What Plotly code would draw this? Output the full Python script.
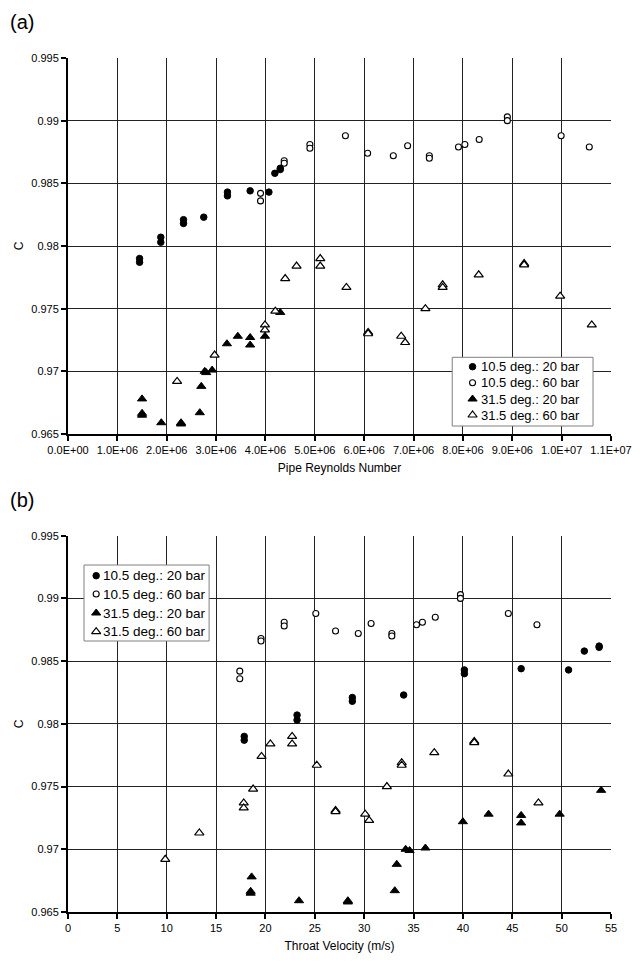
import plotly.graph_objects as go

# ---- Discharge coefficient data, four test series ----
names = ["10.5 deg.: 20 bar", "10.5 deg.: 60 bar", "31.5 deg.: 20 bar", "31.5 deg.: 60 bar"]

# 10.5 deg., 20 bar (filled circles)
re_105_20 = [1.45e6, 1.45e6, 1.88e6, 1.88e6, 2.34e6, 2.34e6, 2.75e6, 3.23e6, 3.23e6,
             3.69e6, 4.07e6, 4.19e6, 4.30e6, 4.30e6]
v_105_20 = [17.85, 17.85, 23.2, 23.2, 28.8, 28.8, 34.0, 40.15, 40.15,
            45.9, 50.7, 52.3, 53.8, 53.8]
c_105_20 = [0.9790, 0.9787, 0.9807, 0.9803, 0.9821, 0.9818, 0.9823, 0.9843, 0.9840,
            0.9844, 0.9843, 0.9858, 0.9862, 0.9861]

# 10.5 deg., 60 bar (open circles)
re_105_60 = [3.90e6, 3.90e6, 4.38e6, 4.38e6, 4.90e6, 4.90e6, 5.62e6, 6.07e6, 6.59e6,
             6.88e6, 7.32e6, 7.32e6, 7.91e6, 8.04e6, 8.33e6, 8.90e6, 8.90e6, 9.99e6, 10.56e6]
v_105_60 = [17.4, 17.4, 19.55, 19.55, 21.9, 21.9, 25.1, 27.1, 29.4,
            30.7, 32.8, 32.8, 35.3, 35.9, 37.2, 39.75, 39.75, 44.6, 47.5]
c_105_60 = [0.9842, 0.9836, 0.9868, 0.9866, 0.9881, 0.9878, 0.9888, 0.9874, 0.9872,
            0.9880, 0.9872, 0.9870, 0.9879, 0.9881, 0.9885, 0.9903, 0.9900, 0.9888, 0.9879]

# 31.5 deg., 20 bar (filled triangles)
re_315_20 = [1.50e6, 1.50e6, 1.50e6, 1.89e6, 2.29e6, 2.29e6, 2.67e6, 2.70e6, 2.77e6,
             2.80e6, 2.92e6, 3.22e6, 3.44e6, 3.69e6, 3.69e6, 3.99e6, 4.30e6]
v_315_20 = [18.6, 18.5, 18.5, 23.4, 28.35, 28.35, 33.1, 33.3, 34.2,
            34.6, 36.2, 40.0, 42.6, 45.9, 45.9, 49.8, 54.0]
c_315_20 = [0.9678, 0.96665, 0.9665, 0.9659, 0.9659, 0.9658, 0.9667, 0.9688, 0.9700,
            0.9699, 0.9701, 0.9722, 0.9728, 0.9727, 0.9721, 0.9728, 0.9747]

# 31.5 deg., 60 bar (open triangles)
re_315_60 = [2.21e6, 2.97e6, 3.99e6, 3.99e6, 4.20e6, 4.40e6, 4.63e6, 5.11e6, 5.11e6,
             5.64e6, 6.08e6, 6.08e6, 6.75e6, 6.83e6, 7.24e6, 7.59e6, 7.59e6, 8.32e6,
             9.24e6, 9.24e6, 9.97e6, 10.61e6]
v_315_60 = [9.85, 13.3, 17.8, 17.8, 18.75, 19.6, 20.5, 22.7, 22.7,
            25.2, 27.1, 27.1, 30.1, 30.5, 32.3, 33.8, 33.8, 37.1,
            41.15, 41.15, 44.6, 47.65]
c_315_60 = [0.9692, 0.9713, 0.9737, 0.9733, 0.9748, 0.9774, 0.9784, 0.9790, 0.9784,
            0.9767, 0.9731, 0.9730, 0.9728, 0.9723, 0.9750, 0.9769, 0.9767, 0.9777,
            0.9786, 0.9785, 0.9760, 0.9737]

# Axis ticks
c_ticks = [0.965, 0.97, 0.975, 0.98, 0.985, 0.99, 0.995]
c_ticktext = ["0.965", "0.97", "0.975", "0.98", "0.985", "0.99", "0.995"]
re_ticks = [0, 1e6, 2e6, 3e6, 4e6, 5e6, 6e6, 7e6, 8e6, 9e6, 1e7, 1.1e7]
re_ticktext = ["0.0E+00", "1.0E+06", "2.0E+06", "3.0E+06", "4.0E+06", "5.0E+06",
               "6.0E+06", "7.0E+06", "8.0E+06", "9.0E+06", "1.0E+07", "1.1E+07"]
v_ticks = [0, 5, 10, 15, 20, 25, 30, 35, 40, 45, 50, 55]

FONT = "Liberation Sans, Arial, sans-serif"

# Figure geometry (pixels) used to place the hand-built legends in paper units
W, H = 644, 963
ML, MR, MT, MB = 68, 23, 58, 51
PW, PH = W - ML - MR, H - MT - MB


def px_x(px):
    return (px - ML) / PW


def px_y(py):
    return (H - MB - py) / PH


marker_styles = [
    dict(symbol="circle", size=6.5, color="black", line=dict(color="black", width=1)),
    dict(symbol="circle", size=6, color="white", line=dict(color="black", width=1.1)),
    dict(symbol="triangle-up", size=8, color="black", line=dict(color="black", width=1)),
    dict(symbol="triangle-up", size=8, color="white", line=dict(color="black", width=1.2)),
]

fig = go.Figure()

panel_a = [(re_105_20, c_105_20), (re_105_60, c_105_60), (re_315_20, c_315_20), (re_315_60, c_315_60)]
panel_b = [(v_105_20, c_105_20), (v_105_60, c_105_60), (v_315_20, c_315_20), (v_315_60, c_315_60)]

for (xs, ys), name, mk in zip(panel_a, names, marker_styles):
    fig.add_trace(go.Scatter(x=xs, y=ys, mode="markers", name=name, marker=mk,
                             xaxis="x", yaxis="y", showlegend=False))
for (xs, ys), name, mk in zip(panel_b, names, marker_styles):
    fig.add_trace(go.Scatter(x=xs, y=ys, mode="markers", name=name, marker=mk,
                             xaxis="x2", yaxis="y2", showlegend=False))

# ---- Legend boxes (drawn on a paper-spanning overlay axis pair) ----
legends = [
    # box left, right, top, bottom, marker x, text x, row centres, font size
    dict(box=(459.3, 602.7, 357.3, 426.0), mx=480.0, tx=487.0,
         rows=[366.7, 382.7, 399.0, 415.0], fs=13),
    dict(box=(84.3, 211.7, 565.0, 641.0), mx=96.7, tx=101.5,
         rows=[575.7, 594.0, 613.0, 631.7], fs=13.5),
]

annotations = []
for lg in legends:
    x0, x1, y0, y1 = lg["box"]
    fig.add_trace(go.Scatter(
        x=[px_x(x0), px_x(x1), px_x(x1), px_x(x0), px_x(x0)],
        y=[px_y(y0), px_y(y0), px_y(y1), px_y(y1), px_y(y0)],
        mode="lines", fill="toself", fillcolor="white",
        line=dict(color="#808080", width=1),
        xaxis="x3", yaxis="y3", showlegend=False, hoverinfo="skip"))
    for name, mk, row in zip(names, marker_styles, lg["rows"]):
        fig.add_trace(go.Scatter(x=[px_x(lg["mx"])], y=[px_y(row)], mode="markers",
                                 marker=mk, xaxis="x3", yaxis="y3",
                                 showlegend=False, hoverinfo="skip"))
        annotations.append(dict(text=name, x=px_x(lg["tx"]), y=px_y(row),
                                xref="paper", yref="paper", xanchor="left",
                                yanchor="middle", showarrow=False,
                                font=dict(family=FONT, size=lg["fs"], color="black")))

axis_common = dict(
    showgrid=True, gridcolor="#222222", gridwidth=1.2,
    showline=True, linecolor="black", linewidth=2,
    ticks="outside", ticklen=5, tickcolor="black", tickwidth=1.5,
    zeroline=False,
    tickfont=dict(family=FONT, size=11, color="black"),
)

dom_a = [px_y(434), 1.0]
dom_b = [0.0, px_y(535.7)]

annotations += [
    dict(text="(a)", x=px_x(7), y=px_y(22), xref="paper", yref="paper",
         xanchor="left", yanchor="middle", showarrow=False,
         font=dict(family=FONT, size=20, color="black")),
    dict(text="(b)", x=px_x(7), y=px_y(500), xref="paper", yref="paper",
         xanchor="left", yanchor="middle", showarrow=False,
         font=dict(family=FONT, size=20, color="black")),
]

fig.update_layout(
    width=W, height=H,
    margin=dict(l=ML, r=MR, t=MT, b=MB),
    paper_bgcolor="white", plot_bgcolor="rgba(0,0,0,0)",
    font=dict(family=FONT, color="black"),
    showlegend=False,
    xaxis=dict(axis_common, domain=[0, 1], anchor="y", range=[0, 1.1e7],
               tickvals=re_ticks, ticktext=re_ticktext,
               title=dict(text="Pipe Reynolds Number", font=dict(family=FONT, size=12), standoff=8)),
    yaxis=dict(axis_common, domain=dom_a, anchor="x", range=[0.965, 0.995],
               tickvals=c_ticks, ticktext=c_ticktext,
               title=dict(text="C", font=dict(family=FONT, size=12), standoff=5)),
    xaxis2=dict(axis_common, domain=[0, 1], anchor="y2", range=[0, 55],
                tickvals=v_ticks,
                title=dict(text="Throat Velocity (m/s)", font=dict(family=FONT, size=12), standoff=8)),
    yaxis2=dict(axis_common, domain=dom_b, anchor="x2", range=[0.965, 0.995],
                tickvals=c_ticks, ticktext=c_ticktext,
                title=dict(text="C", font=dict(family=FONT, size=12), standoff=5)),
    xaxis3=dict(domain=[0, 1], range=[0, 1], visible=False, anchor="y3", fixedrange=True),
    yaxis3=dict(domain=[0, 1], range=[0, 1], visible=False, anchor="x3", fixedrange=True),
    annotations=annotations,
)

fig.write_html("out.html")
